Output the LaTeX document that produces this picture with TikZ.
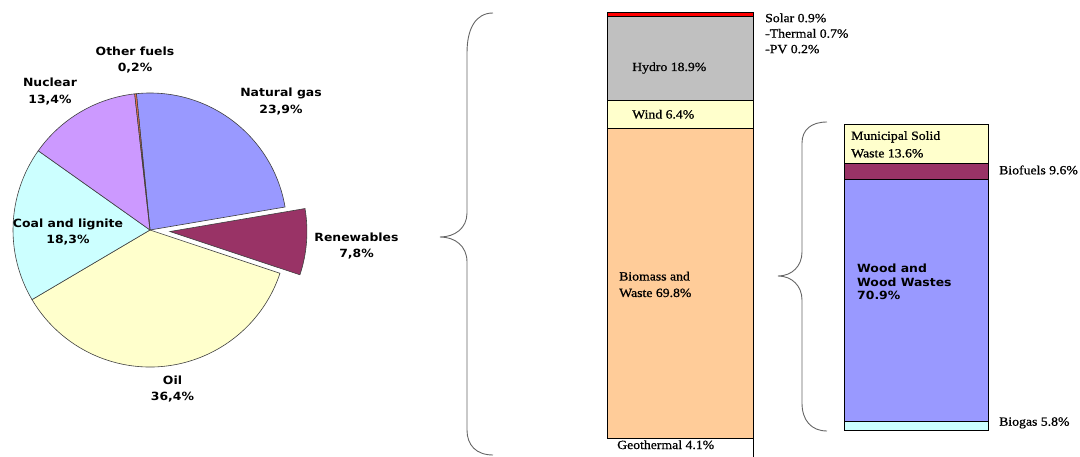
\documentclass[tikz,border=0pt]{standalone}
\usepackage{fontspec}
\newfontfamily\piefont{DejaVu Sans}[FakeStretch=1.1]
\newfontfamily\barfont{Liberation Serif}[FakeStretch=1.1,FakeBold=0.8]
\definecolor{ngas}{HTML}{9999FF}
\definecolor{renew}{HTML}{993366}
\definecolor{oilc}{HTML}{FFFFCC}
\definecolor{coalc}{HTML}{CCFFFF}
\definecolor{nucc}{HTML}{CC99FF}
\definecolor{otherc}{HTML}{FF7050}
\definecolor{hydroc}{HTML}{C0C0C0}
\definecolor{biomc}{HTML}{FFCC99}
\definecolor{solarc}{HTML}{FF0000}
\tikzset{
  pielab/.style={font=\piefont\bfseries\fontsize{11.3}{16.4}\selectfont, align=center, inner sep=0pt, anchor=north},
  woodlab/.style={font=\piefont\bfseries\fontsize{11.3}{13.4}\selectfont, align=left, inner sep=0pt, anchor=north west},
  barlab/.style={font=\barfont\fontsize{12.5}{16.5}\selectfont, inner sep=0pt, anchor=base west},
  barblock/.style={font=\barfont\fontsize{12.5}{16.5}\selectfont, inner sep=0pt, align=left, anchor=north west},
  slice/.style={draw=black!75, line width=0.6pt},
  seg/.style={draw=black, line width=1pt},
  bracestyle/.style={draw=black!60, line width=0.9pt}
}
\begin{document}
\begin{tikzpicture}[x=1pt,y=-1pt]
\useasboundingbox (0,0) rectangle (1080,457);
% ---------- pie ----------
\coordinate (pc) at (150,230);
\coordinate (rc) at (169.94,231.53);
\filldraw[slice, fill=ngas] (pc) -- ++(264.3:137) arc[start angle=264.3, end angle=350.34, radius=137] -- cycle;
\filldraw[slice, fill=renew] (rc) -- ++(350.34:137) arc[start angle=350.34, end angle=378.42, radius=137] -- cycle;
\filldraw[slice, fill=oilc] (pc) -- ++(18.42:137) arc[start angle=18.42, end angle=149.46, radius=137] -- cycle;
\filldraw[slice, fill=coalc] (pc) -- ++(149.46:137) arc[start angle=149.46, end angle=215.34, radius=137] -- cycle;
\filldraw[slice, fill=nucc] (pc) -- ++(215.34:137) arc[start angle=215.34, end angle=263.58, radius=137] -- cycle;
\filldraw[slice, fill=otherc] (pc) -- ++(263.58:137) arc[start angle=263.58, end angle=264.3, radius=137] -- cycle;
\node[pielab] (lother) at (135,46.4) {Other fuels\\0,2\%};
\node[pielab] (lnuc) at (50,78.1) {Nuclear\\13,4\%};
\node[pielab] (lngas) at (281,88.1) {Natural gas\\23,9\%};
\node[pielab] (lren) at (356.5,232.4) {Renewables\\7,8\%};
\node[pielab] (lcoal) at (68,218.7) {Coal and lignite\\18,3\%};
\node[pielab] (loil) at (172.5,375.7) {Oil\\36,4\%};
% ---------- big brace ----------
\coordinate (b1top) at (493,13);
\coordinate (b1tip) at (440,237);
\coordinate (b1bot) at (493,455);
\draw[bracestyle] (b1top) .. controls (476,13) and (467,28) .. (467,53) -- (467,213)
  .. controls (467,228) and (455,237) .. (b1tip)
  .. controls (455,237) and (467,246) .. (467,262) -- (467,430)
  .. controls (467,445) and (476,455) .. (b1bot);
% ---------- bar 1 ----------
\filldraw[seg, fill=solarc] (607,13) rectangle (753,17);
\filldraw[seg, fill=hydroc] (607,17) rectangle (753,101);
\filldraw[seg, fill=oilc] (607,101) rectangle (753,129);
\filldraw[seg, fill=biomc] (607,129) rectangle (753,438);
\draw[seg] (607,438) -- (753,438) -- (753,457);
\node[barblock] (lsolar) at (765,13.3) {Solar 0.9\%\\[-1pt]-Thermal 0.7\%\\[-1pt]-PV 0.2\%};
\node[barlab] (lhydro) at (632,71) {Hydro 18.9\%};
\node[barlab] (lwind) at (632,118.5) {Wind 6.4\%};
\node[barblock] (lbiom) at (619,271.6) {Biomass and\\Waste 69.8\%};
\node[barlab] (lgeo) at (617,449) {Geothermal 4.1\%};
% ---------- small brace ----------
\coordinate (b2top) at (827,122);
\coordinate (b2tip) at (778,276);
\coordinate (b2bot) at (827,431);
\draw[bracestyle] (b2top) .. controls (811,122) and (802,130) .. (802,143) -- (802,252)
  .. controls (802,266) and (792,276) .. (b2tip)
  .. controls (792,276) and (802,286) .. (802,300) -- (802,403)
  .. controls (802,420) and (811,431) .. (b2bot);
% ---------- bar 2 ----------
\filldraw[seg, fill=oilc] (844,125) rectangle (988,164);
\filldraw[seg, fill=renew] (844,164) rectangle (988,180);
\filldraw[seg, fill=ngas] (844,180) rectangle (988,421);
\filldraw[seg, fill=coalc] (844,421) rectangle (988,430);
\node[barblock] (lmsw) at (851,131) {Municipal Solid\\[1pt]Waste 13.6\%};
\node[barlab] (lbiof) at (999,174.3) {Biofuels 9.6\%};
\node[barlab] (lbiog) at (999,425.7) {Biogas 5.8\%};
\node[woodlab] (lwood) at (857,264) {Wood and\\Wood Wastes\\70.9\%};
\end{tikzpicture}
\end{document}
